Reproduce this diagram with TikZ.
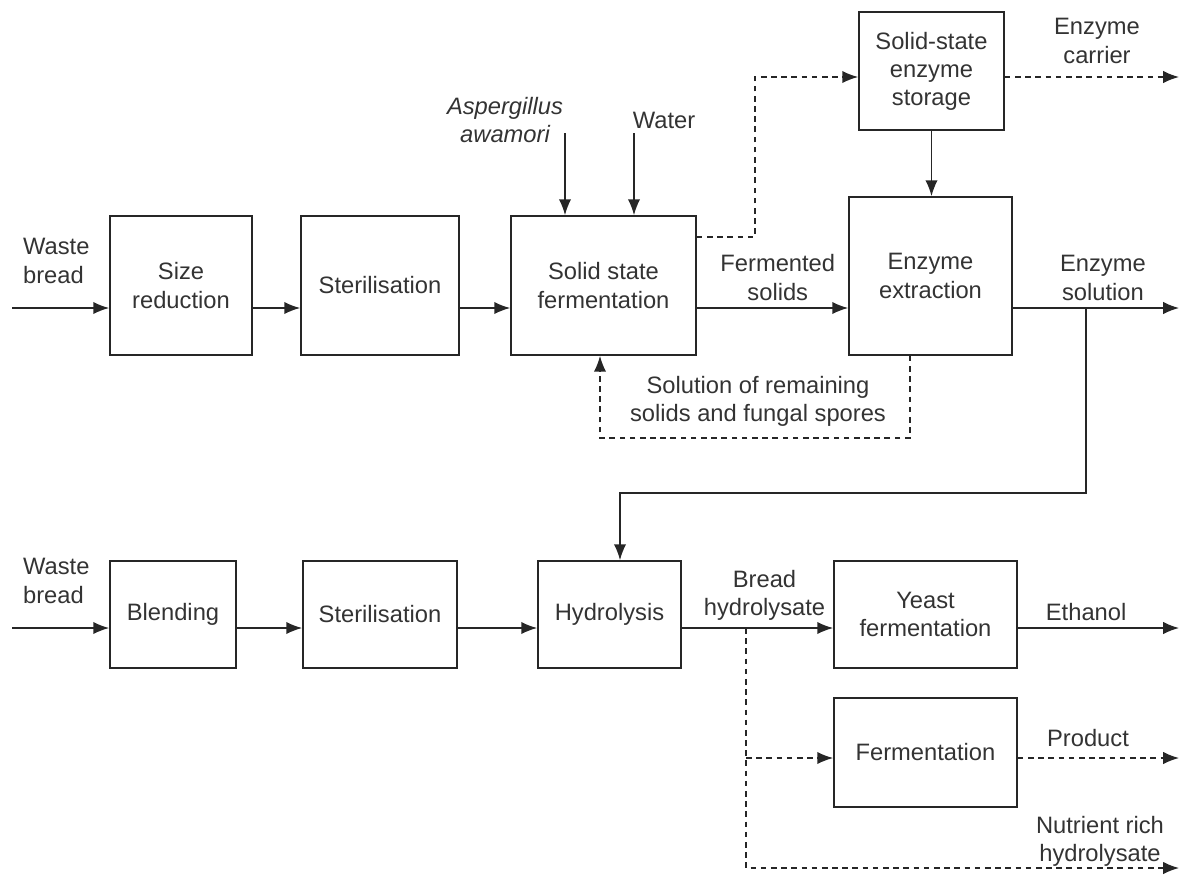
\documentclass[tikz,border=0pt]{standalone}
\usepackage{fontspec}
\setmainfont{Liberation Sans}
\usetikzlibrary{arrows.meta, positioning}

\begin{document}
\begin{tikzpicture}[>={Latex[length=9pt,width=7pt]}, x=0.02cm, y=-0.02cm,
    font=\fontsize{13.5}{16}\selectfont, text=black!80,
    box/.style={draw=black!85, line width=1pt, align=center, inner sep=2pt},
    flow/.style={->, draw=black!85, line width=0.8pt},
    dflow/.style={->, draw=black!85, line width=0.8pt, dash pattern=on 3.2pt off 2.6pt},
    lbl/.style={align=center, inner sep=1pt}]
    \useasboundingbox (0,0) rectangle (1180,883);

    % Hilfslinien
    \coordinate (main) at (0,308);
    \coordinate (low) at (0,628);
    \coordinate (endx) at (1179,0);

    % Obere Reihe
    \node[box, minimum width=2.84cm, minimum height=2.78cm] (sizered) at (181,285.5) {Size\\reduction};
    \node[box, minimum width=3.16cm, minimum height=2.78cm] (steril) at (380,285.5) {Sterilisation};
    \node[box, minimum width=3.7cm, minimum height=2.78cm] (ssf) at (603.5,285.5) {Solid state\\fermentation};
    \node[box, minimum width=3.26cm, minimum height=3.16cm] (extract) at (930.5,276) {Enzyme\\extraction};
    \node[box, minimum width=2.9cm, minimum height=2.36cm] (storage) at (931.5,71) {Solid-state\\enzyme\\storage};

    % Untere Reihe
    \node[box, minimum width=2.52cm, minimum height=2.14cm] (blend) at (173,614.5) {Blending};
    \node[box, minimum width=3.08cm, minimum height=2.14cm] (steril2) at (380,614.5) {Sterilisation};
    \node[box, minimum width=2.86cm, minimum height=2.14cm] (hydro) at (609.5,614.5) {Hydrolysis};
    \node[box, minimum width=3.66cm, minimum height=2.14cm] (yeast) at (925.5,614.5) {Yeast\\fermentation};
    \node[box, minimum width=3.66cm, minimum height=2.18cm] (ferm) at (925.5,752.5) {Fermentation};

    % Texte
    \node[lbl, anchor=west, align=left] (waste1) at (21,261) {Waste\\bread};
    \node[lbl, anchor=west, align=left] (waste2) at (21,581) {Waste\\bread};
    \node[lbl, font=\fontsize{13.5}{16}\selectfont\itshape] (asp) at (505,120) {Aspergillus\\awamori};
    \node[lbl] (water) at (664,120) {Water};
    \node[lbl] (carrier) at (1097,41) {Enzyme\\carrier};
    \node[lbl] (solrem) at (758,401) {Solution of remaining\\solids and fungal spores};
    \node[lbl] (product) at (1088,738) {Product};
    \node[lbl] (nutrient) at (1100,841) {Nutrient rich\\hydrolysate};

    % Hauptstrom oben
    \coordinate (wb1) at (12,308);
    \draw[flow] (wb1) -- (sizered.west |- main);
    \draw[flow] (sizered.east |- main) -- (steril.west |- main);
    \draw[flow] (steril.east |- main) -- (ssf.west |- main);
    \draw[flow] (ssf.east |- main) -- (extract.west |- main)
        node[lbl, midway, above=3pt, xshift=3pt] {Fermented\\solids};
    \draw[flow] (extract.east |- main) -- (endx |- main)
        node[lbl, midway, above=3pt, xshift=4pt] {Enzyme\\solution};

    % Zugaben
    \coordinate (aspin) at (565,133);
    \coordinate (waterin) at (634,133);
    \draw[flow] (aspin) -- (ssf.north -| aspin);
    \draw[flow] (waterin) -- (ssf.north -| waterin);

    % Enzymlager
    \coordinate (stin) at ([yshift=-0.12cm]storage.west);
    \coordinate (stout) at ([yshift=-0.12cm]storage.east);
    \draw[dflow] ([yshift=-0.44cm]ssf.north east) -- ++(58,0) |- (stin);
    \draw[dflow] (stout) -- (stout -| endx);
    \draw[flow] (storage.south) -- (storage.south |- extract.north);

    % Rueckfuehrung
    \draw[dflow] ([xshift=-0.41cm]extract.south) -- ++(0,82) -| ([xshift=-0.07cm]ssf.south);

    % Zur Hydrolyse
    \coordinate (br) at (1086,308);
    \coordinate (hydin) at ([xshift=0.21cm]hydro.north);
    \draw[flow] (br) -- ++(0,185) -| (hydin);

    % Hauptstrom unten
    \coordinate (wb2) at (12,628);
    \draw[flow] (wb2) -- (blend.west |- low);
    \draw[flow] (blend.east |- low) -- (steril2.west |- low);
    \draw[flow] (steril2.east |- low) -- (hydro.west |- low);
    \draw[flow] (hydro.east |- low) -- (yeast.west |- low)
        node[lbl, midway, above=3pt, xshift=4pt] {Bread\\hydrolysate};
    \draw[flow] (yeast.east |- low) -- (endx |- low)
        node[lbl, midway, above=3pt, xshift=-7pt] {Ethanol};

    % Nebenstroeme
    \coordinate (bh) at (746,628);
    \coordinate (fin) at ([yshift=-0.11cm]ferm.west);
    \coordinate (fout) at ([yshift=-0.11cm]ferm.east);
    \coordinate (nutout) at (1179,868);
    \draw[dflow] (bh) |- (nutout);
    \draw[dflow] (bh |- fin) -- (fin);
    \draw[dflow] (fout) -- (fout -| endx);
\end{tikzpicture}
\end{document}
